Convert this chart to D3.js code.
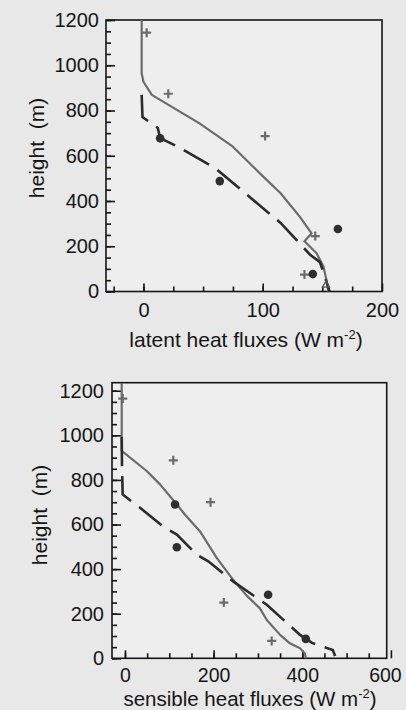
<!DOCTYPE html>
<html><head><meta charset="utf-8">
<script src="https://cdn.jsdelivr.net/npm/d3@7"></script>
<style>body{margin:0;background:#e8e8e8}svg{display:block}</style>
</head><body>
<svg id="c" width="406" height="710"></svg>
<script>
// ---- data ----
const heightMajorTicks = [0,200,400,600,800,1000,1200];
const heightMinorTicks = d3.range(0,1201,50);
const latentTickLabels = [0,100,200];
const latentMinorTicks = d3.range(-25,176,25);
const sensibleTickLabels = [0,200,400,600];
const sensibleMinorTicks = d3.range(0,551,50);

const latentSolid = [[-1.5,1200],[-1.5,964],[0,927],[7,869],[47,743],[75,640],[100,510],[115,434],[131,331],[141,257],[135,222],[145,170],[151,110],[154,36],[155,0]];
const latentDashed = [[-1.5,869],[-0.8,771],[4.6,751],[12,723],[14,678],[29,639],[60,546],[89,418],[115,303],[140,161],[148,130],[156,2]];
const latentPlus = [[2.7,1144],[20.8,874],[102,687],[144,245],[135,75]];
const latentDots = [[14,677],[64,488],[163,276],[142,77]];
const latentTriangle = [[153,28]];

const sensibleSolid = [[-7.4,1235],[-7.4,930],[49,840],[79,780],[117,690],[135,645],[169,570],[207,450],[244,352],[275,280],[304,225],[320,172],[350,105],[372,67],[395,45],[406,22],[408,0]];
const sensibleDashed = [[-7.4,992],[-6.8,870],[-5.2,735],[15,703],[34,675],[86,591],[117,555],[162,465],[188,435],[244,345],[320,240],[395,105],[422,69],[469,37],[474,10]];
const sensiblePlus = [[-5,1165],[109,888],[193,700],[223,250],[331,78]];
const sensibleDots = [[113,690],[117,498],[323,285],[408,87]];

const svg = d3.select('#c');
const FONT = "'Liberation Sans', Arial, Helvetica, sans-serif";
const INK = '#151515';

function panel(o){
  const x = d3.scaleLinear().domain(o.xDomain).range(o.xRange);
  const y = d3.scaleLinear().domain(o.yDomain).range(o.yRange);
  const g = svg.append('g');
  const [x0,x1] = o.xRange, [yb,yt] = o.yRange;
  // frame
  g.append('rect').attr('x',x0).attr('y',yt).attr('width',x1-x0).attr('height',yb-yt)
    .attr('fill','#eeeeee').attr('stroke',INK).attr('stroke-width',1.6);
  // y minor ticks
  g.append('g').attr('transform',`translate(${x0},0)`)
    .call(d3.axisLeft(y).tickValues(o.yMinor).tickSize(-5).tickFormat(''))
    .call(a=>{a.select('.domain').remove();a.selectAll('line').attr('stroke',INK).attr('stroke-width',1.6);});
  // y major ticks + labels
  g.append('g').attr('transform',`translate(${x0},0)`)
    .call(d3.axisLeft(y).tickValues(heightMajorTicks).tickSize(-9).tickPadding(o.yPad).tickFormat(d3.format('d')))
    .call(a=>{a.select('.domain').remove();a.selectAll('line').attr('stroke',INK).attr('stroke-width',1.6);
      a.selectAll('text').attr('font-family',FONT).attr('font-size',20).attr('fill',INK);});
  // x minor ticks
  g.append('g').attr('transform',`translate(0,${yb})`)
    .call(d3.axisBottom(x).tickValues(o.xMinor).tickSize(-5).tickFormat(''))
    .call(a=>{a.select('.domain').remove();a.selectAll('line').attr('stroke',INK).attr('stroke-width',1.6);});
  // x major ticks + labels
  g.append('g').attr('transform',`translate(0,${yb})`)
    .call(d3.axisBottom(x).tickValues(o.xMajor).tickSize(-8).tickPadding(o.xPad).tickFormat(d3.format('d')))
    .call(a=>{a.select('.domain').remove();a.selectAll('line').attr('stroke',INK).attr('stroke-width',1.6);
      a.selectAll('text').attr('font-family',FONT).attr('font-size',o.xFont).attr('fill',INK)
        .attr('dx',(d)=> d===o.xMajor[o.xMajor.length-1] ? o.lastDx : 0);});

  const line = d3.line().x(d=>x(d[0])).y(d=>y(d[1]));
  g.append('path').datum(o.solid).attr('d',line).attr('fill','none')
    .attr('stroke','#6b6b6b').attr('stroke-width',2.2).attr('stroke-linejoin','round');
  g.append('path').datum(o.dashed).attr('d',line).attr('fill','none')
    .attr('stroke','#2b2b2b').attr('stroke-width',2.6).attr('stroke-dasharray','29,10');
  // plus markers
  const s = 4.5;
  g.selectAll('.pl').data(o.plus).join('path')
    .attr('d',d=>`M${x(d[0])-s},${y(d[1])}H${x(d[0])+s}M${x(d[0])},${y(d[1])-s}V${y(d[1])+s}`)
    .attr('stroke','#6b6b6b').attr('stroke-width',2.2).attr('fill','none');
  g.selectAll('.dt').data(o.dots).join('circle')
    .attr('cx',d=>x(d[0])).attr('cy',d=>y(d[1])).attr('r',4.3).attr('fill','#2e2e2e');
  if(o.tri){
    g.selectAll('.tr').data(o.tri).join('path')
      .attr('d',d3.symbol(d3.symbolTriangle,22))
      .attr('transform',d=>`translate(${x(d[0])},${y(d[1])})`)
      .attr('fill','none').attr('stroke','#555').attr('stroke-width',1.3);
  }
  // titles
  g.append('text').attr('transform',`translate(${o.yTitle[0]},${o.yTitle[1]}) rotate(-90)`)
    .attr('text-anchor','middle').attr('font-family',FONT).attr('font-size',21).attr('fill',INK)
    .style('white-space','pre').text('height  (m)');
  const xt = g.append('text').attr('x',o.xTitle[0]).attr('y',o.xTitle[1])
    .attr('text-anchor','middle').attr('font-family',FONT).attr('font-size',o.titleFont).attr('fill',INK);
  xt.append('tspan').text(o.xName+' (W m');
  xt.append('tspan').attr('dy',-8).attr('font-size',13).text('-2');
  xt.append('tspan').attr('dy',8).text(')');
}

panel({xDomain:[-31.4,200], xRange:[106,382], yDomain:[0,1200], yRange:[291.5,20],
  yMinor:heightMinorTicks, xMinor:latentMinorTicks, xMajor:latentTickLabels, lastDx:0, xFont:20, titleFont:21,
  yPad:7, xPad:11.5, solid:latentSolid, dashed:latentDashed, plus:latentPlus, dots:latentDots, tri:latentTriangle,
  yTitle:[44,148], xTitle:[246,347], xName:'latent heat fluxes'});

panel({xDomain:[-29.3,590.5], xRange:[112,386.7], yDomain:[0,1236], yRange:[658.3,382.7],
  yMinor:heightMinorTicks, xMinor:sensibleMinorTicks, xMajor:sensibleTickLabels, lastDx:-6, xFont:19.5, titleFont:20.5,
  yPad:8, xPad:9.5, solid:sensibleSolid, dashed:sensibleDashed, plus:sensiblePlus, dots:sensibleDots,
  yTitle:[47,515], xTitle:[250,705.5], xName:'sensible heat fluxes'});
</script>
</body></html>
